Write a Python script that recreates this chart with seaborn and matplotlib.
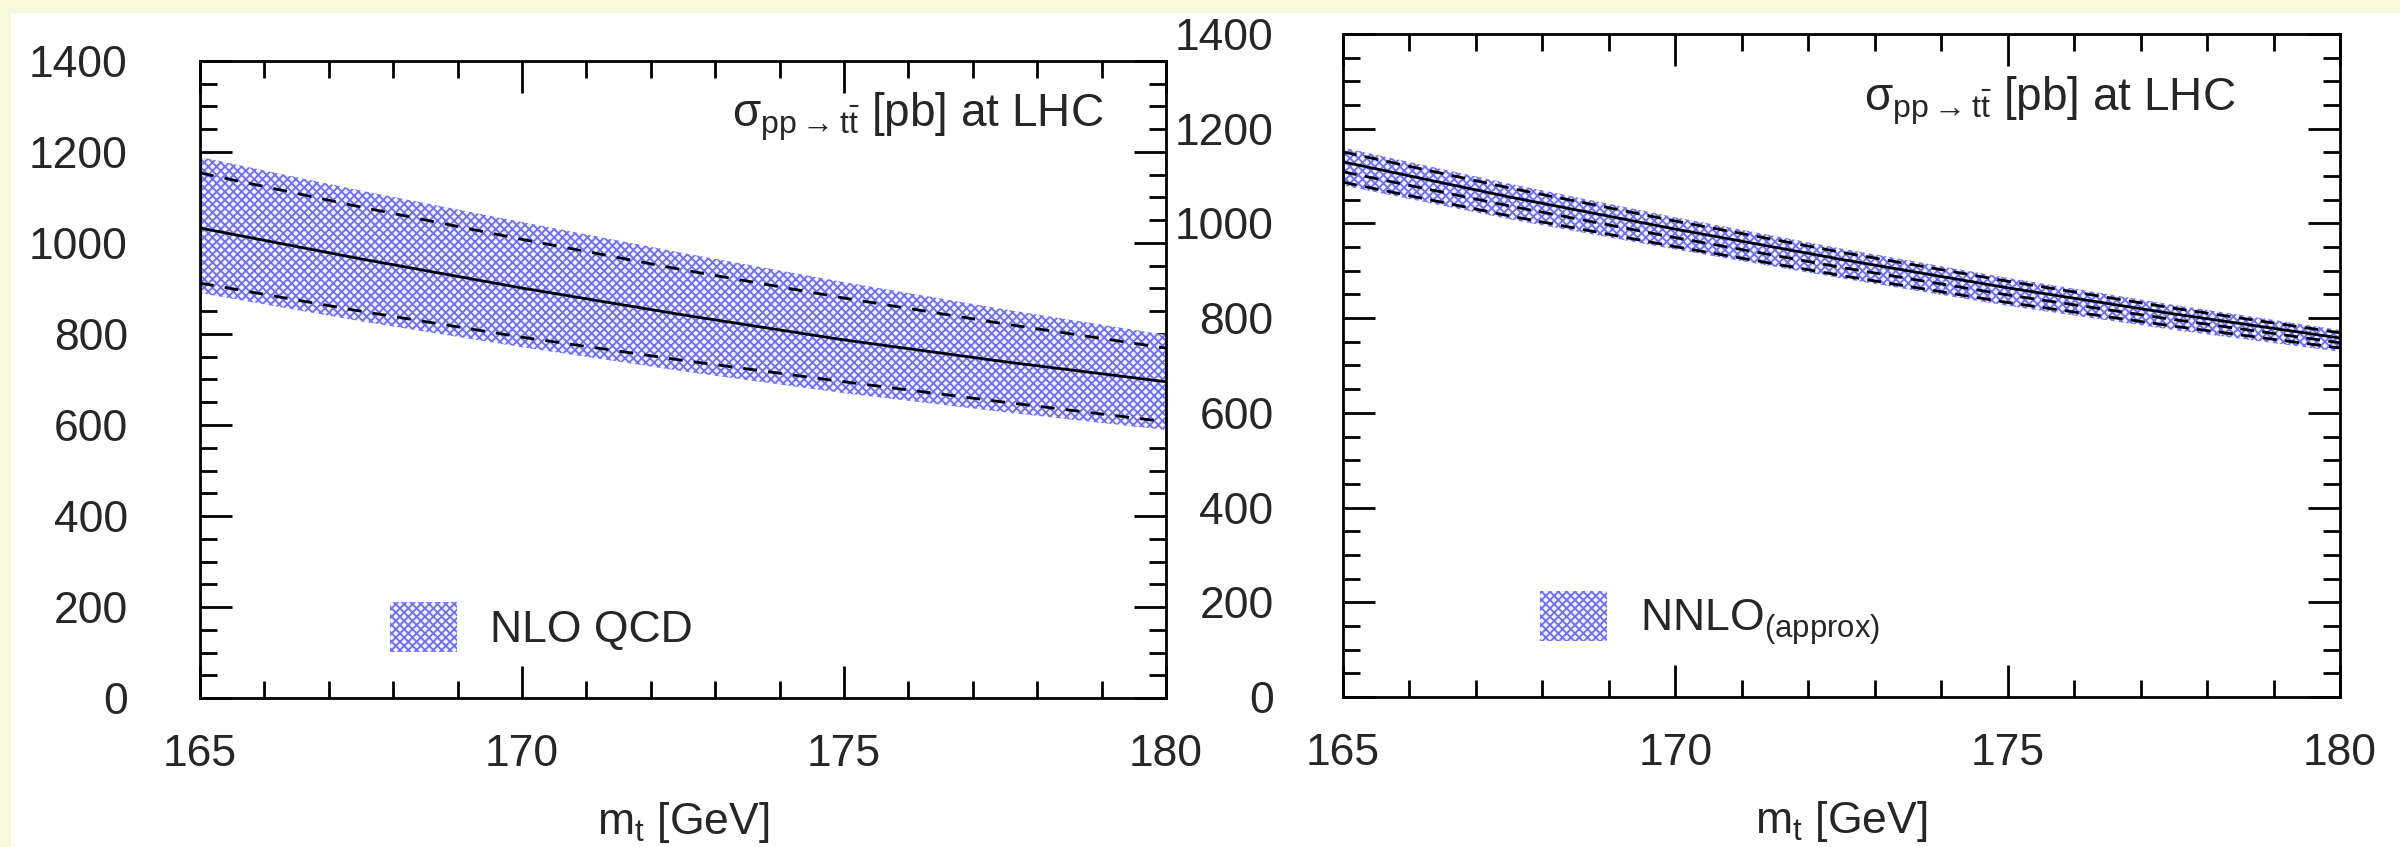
import numpy as np
import pandas as pd
import matplotlib
matplotlib.use("Agg")
import matplotlib.pyplot as plt
import seaborn as sns
from matplotlib.patches import Patch, Rectangle
from matplotlib.ticker import MultipleLocator

# ---------------- data ----------------
mt = [165, 167.5, 170, 172.5, 175, 177.5, 180]

# NLO QCD (left)
nlo_band_hi = [1189, 1115, 1046, 978, 914, 854, 798]
nlo_dash_hi = [1154, 1079, 1008, 941, 879, 822, 769]
nlo_central = [1033, 965, 901, 842, 787, 739, 695]
nlo_dash_lo = [912, 850, 793, 742, 695, 650, 607]
nlo_band_lo = [890, 828, 771, 718, 670, 628, 589]

# NNLO approx (right)
nnlo_band_hi = [1160, 1084, 1013, 947, 885, 828, 775]
nnlo_l1 = [1151, 1075, 1005, 939, 878, 821, 769]
nnlo_l2 = [1130, 1056, 988, 924, 864, 809, 758]
nnlo_l3 = [1109, 1037, 970, 907, 849, 797, 748]
nnlo_l4 = [1087, 1016, 951, 890, 833, 783, 737]
nnlo_band_lo = [1080, 1009, 945, 884, 826, 775, 729]

xticks = [165, 170, 175, 180]
yticks = [0, 200, 400, 600, 800, 1000, 1200, 1400]
title_text = 'σ$_{\\rm pp\\rightarrow t\\bar{t}}$ [pb] at LHC'
xlabel_text = r'm$_{\rm t}$ [GeV]'
legend_left = 'NLO QCD'
legend_right = r'NNLO$_{\rm (approx)}$'

# ---------------- style ----------------
sns.set_style("ticks")
plt.rcParams['font.family'] = ['Liberation Sans', 'DejaVu Sans']
plt.rcParams['mathtext.fontset'] = 'custom'
plt.rcParams['mathtext.rm'] = 'Liberation Sans'
plt.rcParams['mathtext.it'] = 'Liberation Sans:italic'
plt.rcParams['mathtext.bf'] = 'Liberation Sans:bold'
plt.rcParams['hatch.linewidth'] = 1.35

BAND_EDGE = '#7070ff'
BAND_FACE = '#f4f4ff'
FS = 32

fig = plt.figure(figsize=(24, 8.47), dpi=100)
fig.patch.set_facecolor('#f7f9dc')
fig.add_artist(Rectangle((11 / 2400, 0), 1, 1 - 13 / 847, transform=fig.transFigure,
                         facecolor='white', edgecolor='none', zorder=-10))

axL = fig.add_axes([200 / 2400, (847 - 698) / 847, 966 / 2400, 637 / 847])
axR = fig.add_axes([1343 / 2400, (847 - 697) / 847, 997 / 2400, 663 / 847])


def style_axis(ax, ypad):
    ax.set_facecolor('white')
    ax.set_xlim(165, 180)
    ax.set_ylim(0, 1400)
    ax.set_xticks(xticks)
    ax.set_yticks(yticks)
    ax.xaxis.set_minor_locator(MultipleLocator(1))
    ax.yaxis.set_minor_locator(MultipleLocator(50))
    for s in ax.spines.values():
        s.set_linewidth(2)
        s.set_color('black')
    ax.tick_params(which='both', direction='in', top=True, right=True, width=2, color='black')
    ax.tick_params(which='major', length=23)
    ax.tick_params(which='minor', length=12)
    ax.tick_params(axis='y', which='major', labelsize=FS, pad=ypad)
    ax.tick_params(axis='x', which='major', labelsize=FS, pad=26)
    ax.set_xlabel(xlabel_text, fontsize=FS, labelpad=18)
    ax.set_ylabel('')


def band(ax, lo, hi):
    ax.fill_between(mt, lo, hi, facecolor=BAND_FACE, edgecolor=BAND_EDGE,
                    hatch='xxxx', linewidth=0, zorder=1)


# Left panel
band(axL, nlo_band_lo, nlo_band_hi)
sns.lineplot(x=mt, y=nlo_central, ax=axL, color='black', linewidth=2, zorder=3)
sns.lineplot(x=mt, y=nlo_dash_hi, ax=axL, color='black', linewidth=2, linestyle=(0, (5, 4)), zorder=3)
sns.lineplot(x=mt, y=nlo_dash_lo, ax=axL, color='black', linewidth=2, linestyle=(0, (5, 4)), zorder=3)
style_axis(axL, 52)
axL.text(0.935, 0.913, title_text, transform=axL.transAxes, ha='right', va='center', fontsize=33)
axL.legend(handles=[Patch(facecolor=BAND_FACE, edgecolor=BAND_EDGE, hatch='xxxx', linewidth=0, label=legend_left)],
           loc='center left', bbox_to_anchor=(0.197, 0.111), frameon=False, fontsize=FS,
           handlelength=1.5, handleheight=1.35, handletextpad=0.75, borderpad=0, borderaxespad=0)

# Right panel
band(axR, nnlo_band_lo, nnlo_band_hi)
sns.lineplot(x=mt, y=nnlo_l1, ax=axR, color='black', linewidth=2, linestyle=(0, (5, 3)), zorder=3)
sns.lineplot(x=mt, y=nnlo_l2, ax=axR, color='black', linewidth=2, zorder=3)
sns.lineplot(x=mt, y=nnlo_l3, ax=axR, color='black', linewidth=2, linestyle=(0, (5, 3)), zorder=3)
sns.lineplot(x=mt, y=nnlo_l4, ax=axR, color='black', linewidth=2, linestyle=(0, (5, 3)), zorder=3)
style_axis(axR, 50)
axR.text(0.895, 0.900, title_text, transform=axR.transAxes, ha='right', va='center', fontsize=33)
axR.legend(handles=[Patch(facecolor=BAND_FACE, edgecolor=BAND_EDGE, hatch='xxxx', linewidth=0, label=legend_right)],
           loc='center left', bbox_to_anchor=(0.198, 0.118), frameon=False, fontsize=FS,
           handlelength=1.5, handleheight=1.35, handletextpad=0.75, borderpad=0, borderaxespad=0)

fig.savefig('out.png', dpi=100, facecolor=fig.get_facecolor())
